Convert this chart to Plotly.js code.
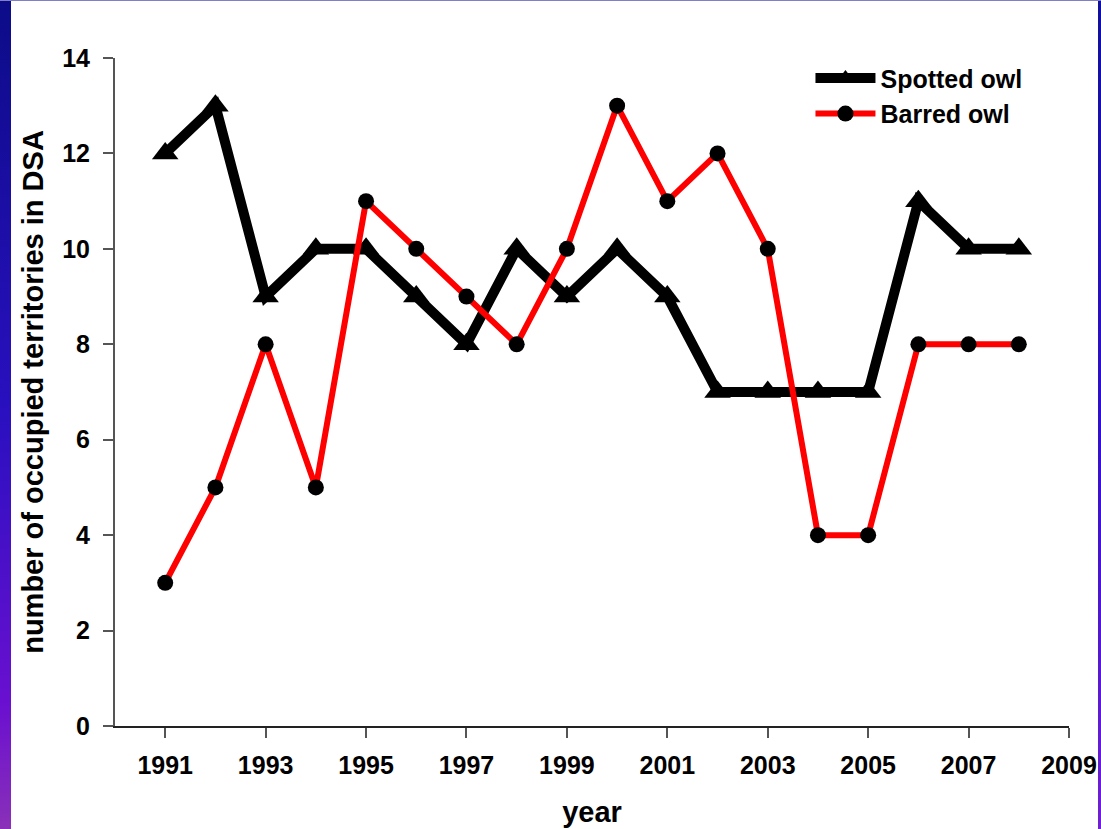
<!DOCTYPE html>
<html><head><meta charset="utf-8">
<script src="https://cdn.plot.ly/plotly-3.0.1.min.js"></script>
<style>
html,body{margin:0;padding:0;background:#fff;overflow:hidden;}
#chart{width:1101px;height:829px;}
#lstrip{position:absolute;left:0;top:0;width:11px;height:829px;background:linear-gradient(to bottom,#0c0c88 0%,#2a10c0 50%,#6a10d0 85%,#8a30b8 100%);z-index:10;}
#rstrip{position:absolute;right:0;top:0;width:3px;height:829px;background:linear-gradient(to bottom,#10109a 0%,#3010c8 50%,#7020d0 100%);z-index:10;}
#tline{position:absolute;left:0;top:0;width:1101px;height:1px;background:#8080c8;z-index:10;}
</style></head>
<body>
<div id="lstrip"></div><div id="rstrip"></div><div id="tline"></div>
<div id="chart"></div>
<script>
const years = [1991,1992,1993,1994,1995,1996,1997,1998,1999,2000,2001,2002,2003,2004,2005,2006,2007,2008];
const spottedOwl = [12,13,9,10,10,9,8,10,9,10,9,7,7,7,7,11,10,10];
const barredOwl = [3,5,8,5,11,10,9,8,10,13,11,12,10,4,4,8,8,8];
const xTicks = [1991,1993,1995,1997,1999,2001,2003,2005,2007,2009];
const yTicks = [0,2,4,6,8,10,12,14];

const fam = '"Liberation Sans", Arial, sans-serif';
const traces = [
  {x:years, y:spottedOwl, name:'Spotted owl', type:'scatter', mode:'lines+markers',
   line:{color:'#000', width:10}, marker:{symbol:'triangle-up', size:23, color:'#000'}},
  {x:years, y:barredOwl, name:'Barred owl', type:'scatter', mode:'lines+markers',
   line:{color:'#ff0000', width:6}, marker:{symbol:'circle', size:16, color:'#000'}}
];
const layout = {
  width:1101, height:829,
  margin:{l:115, r:32, t:58, b:103},
  paper_bgcolor:'#fff', plot_bgcolor:'#fff',
  font:{family:fam, color:'#000'},
  showlegend:true,
  legend:{x:0.729, y:1.004, xanchor:'left', yanchor:'top', bgcolor:'rgba(0,0,0,0)',
    font:{family:fam, size:25, color:'#000', weight:'bold'}, itemwidth:60, tracegroupgap:0},
  xaxis:{range:[1990,2009], tickvals:xTicks, ticktext:xTicks.map(String), ticks:'outside', ticklen:10,
    tickwidth:2, tickcolor:'#555', showline:true, linecolor:'#222', linewidth:2, showgrid:false, zeroline:false,
    ticklabelstandoff:6,
    tickfont:{family:fam, size:25, color:'#000', weight:'bold'},
    title:{text:'year', font:{family:fam, size:29, color:'#000', weight:'bold'}, standoff:24}},
  yaxis:{range:[0,14], tickvals:yTicks, ticks:'outside', ticklen:10, tickwidth:2, tickcolor:'#555',
    showline:true, linecolor:'#555', linewidth:2, showgrid:false, zeroline:false,
    ticklabelstandoff:8,
    tickfont:{family:fam, size:25, color:'#000', weight:'bold'},
    title:{text:'number of occupied territories in DSA', font:{family:fam, size:29, color:'#000', weight:'bold'}, standoff:10}}
};
Plotly.newPlot('chart', traces, layout, {displayModeBar:false});
</script>
</body></html>
